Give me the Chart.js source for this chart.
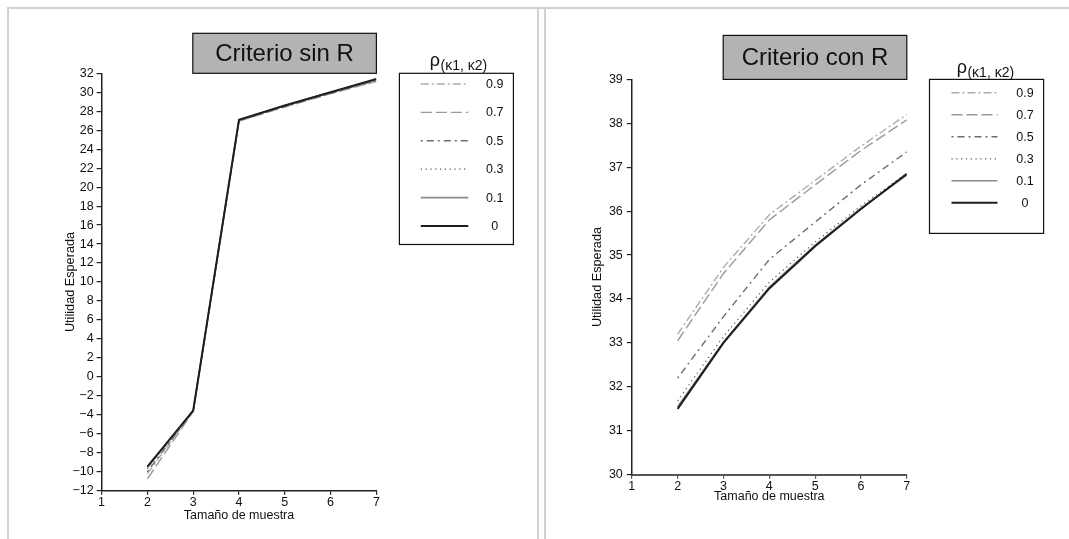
<!DOCTYPE html>
<html>
<head>
<meta charset="utf-8">
<script src="https://cdn.jsdelivr.net/npm/chart.js@4.4.1/dist/chart.umd.min.js"></script>
<style>
  html, body { margin: 0; padding: 0; background: #fff; }
  body { width: 1069px; height: 539px; position: relative; overflow: hidden; }
  .rule { position: absolute; background: #d2d2d2; }
  .panel { position: absolute; top: 0; height: 539px; }
</style>
</head>
<body>
<div class="rule" style="left:7px;top:7px;width:1062px;height:1.5px"></div>
<div class="rule" style="left:7px;top:7px;width:1.5px;height:532px"></div>
<div class="rule" style="left:537px;top:7px;width:1.5px;height:532px"></div>
<div class="rule" style="left:544px;top:7px;width:1.5px;height:532px"></div>
<div class="panel" style="left:0;width:535px"><canvas id="sinR"></canvas></div>
<div class="panel" style="left:535px;width:534px"><canvas id="conR"></canvas></div>
<script>
// Sample sizes on the x axis
const sampleSize = [2, 3, 4, 5, 6, 7];
// Correlation levels, in legend order
const rhoLabels = ['0.9', '0.7', '0.5', '0.3', '0.1', '0'];
const legendSymbol = 'ρ';
const legendSub = '(κ1, κ2)';
const panelTitles = ['Criterio sin R', 'Criterio con R'];
const xTitle = 'Tamaño de muestra';
const yTitle = 'Utilidad Esperada';

// Expected utility, criterion without R
const sinR_09 = [-10.2, -3.6, 27.0, 28.5, 29.9, 31.2];
const sinR_07 = [-10.75, -3.65, 26.95, 28.45, 29.85, 31.15];
const sinR_05 = [-10.0, -3.6, 27.0, 28.5, 29.9, 31.25];
const sinR_03 = [-9.7, -3.6, 27.05, 28.55, 29.95, 31.3];
const sinR_01 = [-9.55, -3.55, 27.1, 28.6, 30.0, 31.35];
const sinR_00 = [-9.45, -3.55, 27.1, 28.6, 30.0, 31.4];

// Expected utility, criterion with R
const conR_09 = [33.2, 34.72, 35.92, 36.7, 37.48, 38.2];
const conR_07 = [33.05, 34.58, 35.8, 36.6, 37.38, 38.08];
const conR_05 = [32.2, 33.6, 34.9, 35.75, 36.6, 37.35];
const conR_03 = [31.68, 33.15, 34.38, 35.3, 36.12, 36.86];
const conR_01 = [31.55, 33.02, 34.27, 35.23, 36.07, 36.82];
const conR_00 = [31.5, 33.0, 34.24, 35.2, 36.05, 36.85];

// Axis ranges [min, max, step]
const sinRRange = [-12, 32, 2];
const conRRange = [30, 39, 1];
const xRange = [1, 7, 1];

const FONT = '"Liberation Sans", Arial, Helvetica, sans-serif';
Chart.defaults.font.family = FONT;
Chart.defaults.font.size = 12;
Chart.defaults.color = '#111';

// Line look for each correlation level (same order as rhoLabels)
const lineStyles = [
  { color: '#adadad', width: 1.4, dash: [8, 3, 2, 3] },
  { color: '#9a9a9a', width: 1.4, dash: [11, 4] },
  { color: '#6e6e6e', width: 1.4, dash: [2, 4, 7, 4] },
  { color: '#555555', width: 1.2, dash: [1.2, 3.6] },
  { color: '#8a8a8a', width: 1.6, dash: [] },
  { color: '#1e1e1e', width: 2.0, dash: [] }
];

function buildDatasets(seriesList) {
  return seriesList.map((vals, i) => ({
    label: rhoLabels[i],
    data: sampleSize.map((x, j) => ({ x: x, y: vals[j] })),
    borderColor: lineStyles[i].color,
    borderWidth: lineStyles[i].width,
    borderDash: lineStyles[i].dash,
    pointRadius: 0,
    fill: false,
    tension: 0,
    order: seriesList.length - 1 - i
  }));
}

const minusSign = v => String(v).replace('-', '\u2212');

// Title box above the plot and boxed legend on its right
const panelDecor = {
  id: 'panelDecor',
  afterDraw(chart, args, o) {
    const ctx = chart.ctx, a = chart.chartArea;
    ctx.save();
    const tx = a.right - o.titleW, ty = a.top - o.titleH;
    ctx.fillStyle = '#b3b3b3';
    ctx.fillRect(tx, ty, o.titleW, o.titleH);
    ctx.strokeStyle = '#111';
    ctx.lineWidth = 1.2;
    ctx.strokeRect(tx, ty, o.titleW, o.titleH);
    ctx.fillStyle = '#111';
    ctx.font = '24px ' + FONT;
    ctx.textAlign = 'center';
    ctx.textBaseline = 'middle';
    ctx.fillText(o.title, tx + o.titleW / 2, ty + o.titleH / 2 + 1);

    const lx = a.right + o.legendGap, ly = a.top;
    ctx.strokeRect(lx, ly, o.legendW, o.legendH);

    ctx.textAlign = 'left';
    ctx.textBaseline = 'alphabetic';
    ctx.font = '18px ' + FONT;
    ctx.fillText(legendSymbol, lx + o.headX, ly - o.rhoUp);
    const w = ctx.measureText(legendSymbol).width;
    ctx.font = '14px ' + FONT;
    ctx.fillText(legendSub, lx + o.headX + w + 0.5, ly - o.subUp);

    ctx.font = '12.5px ' + FONT;
    ctx.textAlign = 'center';
    ctx.textBaseline = 'middle';
    chart.data.datasets.forEach((ds, i) => {
      const y = ly + o.rowFirst + i * o.rowGap;
      ctx.save();
      ctx.strokeStyle = ds.borderColor;
      ctx.lineWidth = ds.borderWidth;
      ctx.setLineDash(ds.borderDash);
      ctx.beginPath();
      ctx.moveTo(lx + o.lineX0, y);
      ctx.lineTo(lx + o.lineX1, y);
      ctx.stroke();
      ctx.restore();
      ctx.fillStyle = '#111';
      ctx.fillText(ds.label, lx + o.labelX, y + 0.5);
    });
    ctx.restore();
  }
};

function makeChart(id, seriesList, yr, geo, deco) {
  return new Chart(document.getElementById(id), {
    type: 'line',
    data: { datasets: buildDatasets(seriesList) },
    plugins: [panelDecor],
    options: {
      responsive: true,
      maintainAspectRatio: false,
      devicePixelRatio: 1,
      animation: false,
      layout: { autoPadding: false, padding: geo.padding },
      plugins: { legend: { display: false }, tooltip: { enabled: false }, panelDecor: deco },
      scales: {
        x: {
          type: 'linear',
          min: xRange[0], max: xRange[1],
          ticks: { stepSize: xRange[2], padding: geo.xTickPad, color: '#111', font: { size: 12.5 } },
          grid: { drawOnChartArea: false, drawTicks: true, tickLength: 4, color: geo.xColor, lineWidth: 1.2 },
          border: { color: geo.xColor, width: geo.xWidth },
          title: { display: true, text: xTitle, font: { size: 12.5 }, color: '#111', padding: { top: 0, bottom: geo.xTitlePad } },
          afterFit(s) { s.height = geo.xHeight; s.paddingLeft = 0; s.paddingRight = 0; }
        },
        y: {
          type: 'linear',
          min: yr[0], max: yr[1],
          ticks: { stepSize: yr[2], padding: geo.yTickPad, color: '#111', font: { size: 12.5 }, callback: minusSign },
          grid: { drawOnChartArea: false, drawTicks: true, tickLength: 5, color: '#222', lineWidth: 1.2 },
          border: { color: '#222', width: 1.5 },
          title: { display: true, text: yTitle, font: { size: 12.7 }, color: '#111', padding: { top: geo.yTitlePad, bottom: 0 } },
          afterFit(s) { s.width = geo.yWidth; s.paddingTop = 0; s.paddingBottom = 0; }
        }
      }
    }
  });
}

makeChart('sinR', [sinR_09, sinR_07, sinR_05, sinR_03, sinR_01, sinR_00], sinRRange,
  { padding: { left: 60, top: 73.3, right: 158.6, bottom: 0.3 }, yWidth: 41.6, xHeight: 48,
    yTickPad: 3, xTickPad: 0, yTitlePad: 3, xTitlePad: 16, xColor: '#222', xWidth: 1.5 },
  { title: panelTitles[0], titleW: 183.6, titleH: 40, legendGap: 23, legendW: 114, legendH: 171.2,
    rowFirst: 10.7, rowGap: 28.4, lineX0: 21.4, lineX1: 68.9, labelX: 95.4, headX: 30.4, rhoUp: 7, subUp: 3.8 });

makeChart('conR', [conR_09, conR_07, conR_05, conR_03, conR_01, conR_00], conRRange,
  { padding: { left: 52, top: 79.4, right: 162.2, bottom: 16.3 }, yWidth: 44.8, xHeight: 48,
    yTickPad: 4, xTickPad: 0, yTitlePad: 3, xTitlePad: 18.4, xColor: '#555', xWidth: 2 },
  { title: panelTitles[1], titleW: 183.6, titleH: 44, legendGap: 22.7, legendW: 114.1, legendH: 154,
    rowFirst: 13.4, rowGap: 22, lineX0: 22, lineX1: 68, labelX: 95.5, headX: 27.2, rhoUp: 6, subUp: 2.4 });
</script>
</body>
</html>
